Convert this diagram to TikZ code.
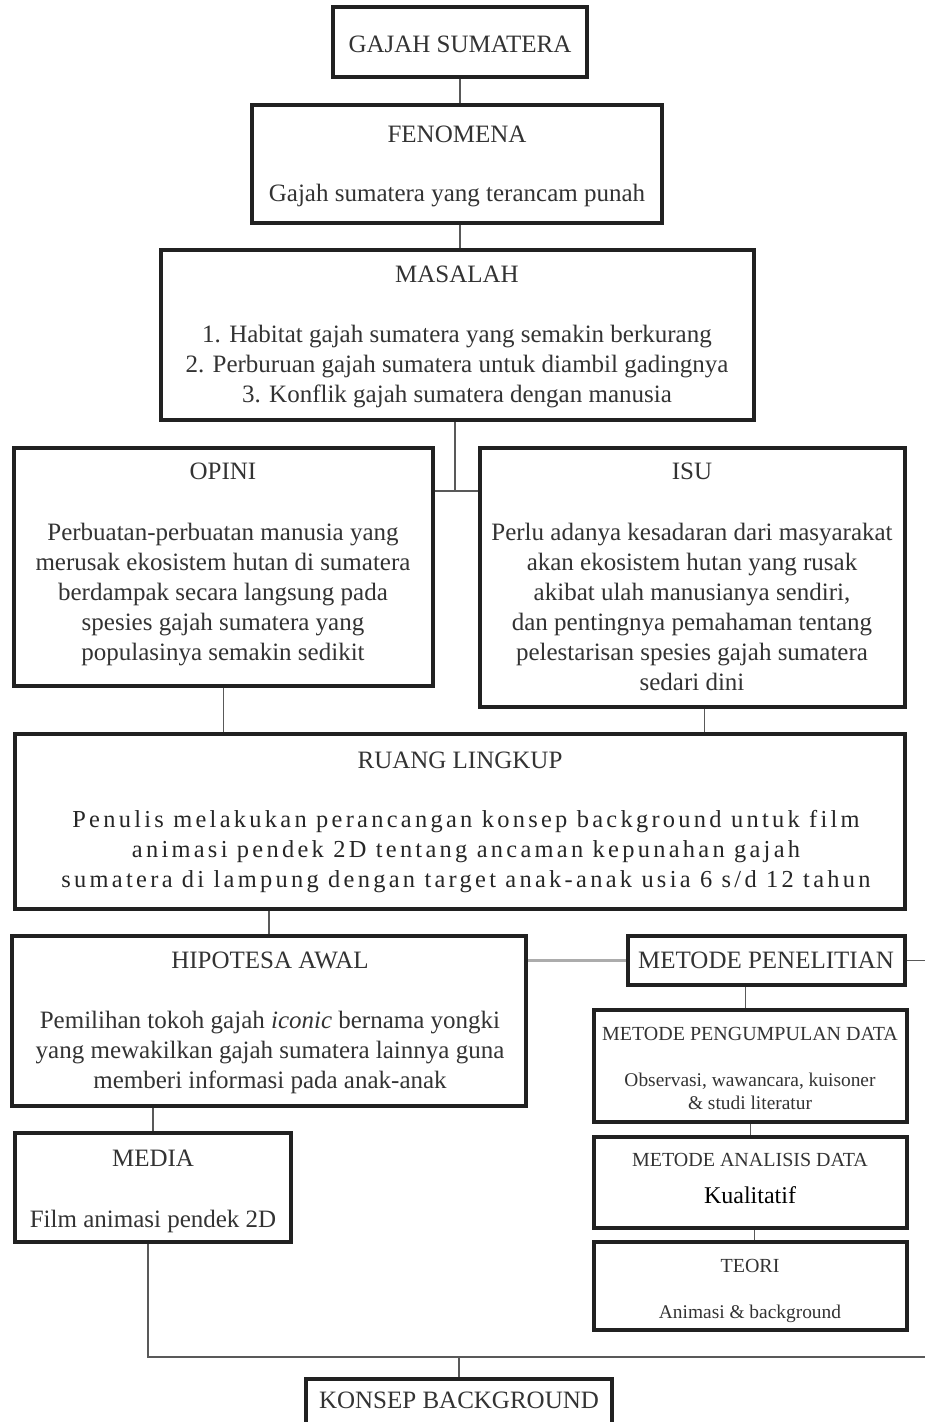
\documentclass[tikz,border=0pt]{standalone}
\usepackage{fontspec}
\setmainfont{Liberation Serif}
\usetikzlibrary{fit}
\definecolor{boxc}{gray}{0.13}
\definecolor{linec}{gray}{0.35}
\definecolor{txtc}{gray}{0.2}
\newcommand\ml[1]{\begin{tabular}[t]{@{}c@{}}#1\end{tabular}}
\begin{document}
\begin{tikzpicture}[x=0.5pt,y=-0.5pt,
  box/.style={draw=boxc, line width=2pt, inner sep=0pt},
  txt/.style={anchor=base, inner sep=0pt, text=txtc, font=\fontsize{12.5}{15}\selectfont},
  small/.style={txt, font=\fontsize{10}{11.5}\selectfont},
  sbody/.style={txt, font=\fontsize{9.7}{11.5}\selectfont},
  link/.style={draw=linec, line width=0.75pt},
  wide/.style={draw=gray!65, line width=1.3pt}]
\fill[white] (0,0) rectangle (925,1422);
\useasboundingbox (0,0) rectangle (925,1422);

% boxes
\node[box, fit={(333,7.5) (587,77.5)}] (gaj) {};
\node[box, fit={(252,105) (662,223)}] (fen) {};
\node[box, fit={(161,250) (754,420)}] (mas) {};
\node[box, fit={(14,448) (433,686)}] (opi) {};
\node[box, fit={(480,448) (905,707)}] (isu) {};
\node[box, fit={(15,734) (905,909)}] (rua) {};
\node[box, fit={(12,936) (526,1106)}] (hip) {};
\node[box, fit={(628,936) (905,985)}] (pen) {};
\node[box, fit={(594,1010) (907,1122)}] (png) {};
\node[box, fit={(594,1137) (907,1228)}] (ana) {};
\node[box, fit={(594,1242) (907,1330)}] (teo) {};
\node[box, fit={(15,1133) (291,1242)}] (med) {};
\node[box, fit={(306,1379) (612,1432)}] (kon) {};

% texts
\node[txt] (gajT) at (460,53) {GAJAH SUMATERA};
\node[txt] (fenT) at (457,143) {FENOMENA};
\node[txt] (fenB) at (457,202) {Gajah sumatera yang terancam punah};
\node[txt] (masT) at (457,283) {MASALAH};
\node[txt] (masB) at (457,343) {\ml{1. Habitat gajah sumatera yang semakin berkurang\\
2. Perburuan gajah sumatera untuk diambil gadingnya\\
3. Konflik gajah sumatera dengan manusia}};
\node[txt] (opiT) at (223,480) {OPINI};
\node[txt] (opiB) at (223,540) {\ml{Perbuatan-perbuatan manusia yang\\
merusak ekosistem hutan di sumatera\\
berdampak secara langsung pada\\
spesies gajah sumatera yang\\
populasinya semakin sedikit}};
\node[txt] (isuT) at (692,480) {ISU};
\node[txt] (isuB) at (692,540) {\ml{Perlu adanya kesadaran dari masyarakat\\
akan ekosistem hutan yang rusak\\
akibat ulah manusianya sendiri,\\
dan pentingnya pemahaman tentang\\
pelestarisan spesies gajah sumatera\\
sedari dini}};
\node[txt] (ruaT) at (460,768) {RUANG LINGKUP};
\node[txt, text=black!85, font=\fontsize{12.2}{15}\selectfont\addfontfeature{LetterSpace=13.5}] (ruaB) at (466,827) {\ml{Penulis melakukan perancangan konsep background untuk film\\
animasi pendek 2D tentang ancaman kepunahan gajah\\
sumatera di lampung dengan target anak-anak usia 6 s/d 12 tahun}};
\node[txt] (hipT) at (270,968) {HIPOTESA AWAL};
\node[txt] (hipB) at (270,1028) {\ml{Pemilihan tokoh gajah \textit{iconic} bernama yongki\\
yang mewakilkan gajah sumatera lainnya guna\\
memberi informasi pada anak-anak}};
\node[txt] (penT) at (766,968) {METODE PENELITIAN};
\node[small] (pngT) at (750,1040) {METODE PENGUMPULAN DATA};
\node[sbody] (pngB) at (750,1086) {\ml{Observasi, wawancara, kuisoner\\ \& studi literatur}};
\node[small] (anaT) at (750,1166) {METODE ANALISIS DATA};
\node[txt, text=black, font=\fontsize{12}{14}\selectfont] (anaB) at (750,1203) {Kualitatif};
\node[small] (teoT) at (750,1272) {TEORI};
\node[sbody] (teoB) at (750,1318) {Animasi \& background};
\node[txt] (medT) at (153,1166) {MEDIA};
\node[txt] (medB) at (153,1227) {Film animasi pendek 2D};
\node[txt] (konT) at (459,1408) {KONSEP BACKGROUND};

% connectors
\coordinate (j1) at (455,491);
\coordinate (e1) at (925,960.5);
\coordinate (b1) at (148,1357);
\coordinate (b2) at (925,1357);
\draw[link] (gaj.south) -- (gaj.south |- fen.north);
\draw[link] ([xshift=1.5pt]fen.south) -- ([xshift=1.5pt]fen.south |- mas.north);
\draw[link] (mas.south -| j1) -- (j1);
\draw[link] (opi.east |- j1) -- (isu.west |- j1);
\draw[link] (opi.south) -- (opi.south |- rua.north);
\draw[link] ([xshift=6pt]isu.south) -- ([xshift=6pt]isu.south |- rua.north);
\draw[link] (hip.north) -- (hip.north |- rua.south);
\draw[wide] (hip.east |- pen.west) -- (pen.west);
\draw[link] (pen.east) -- (e1);
\draw[link] ([xshift=-2.5pt]png.north) -- ([xshift=-2.5pt]png.north |- pen.south);
\draw[link] (ana.north) -- (ana.north |- png.south);
\draw[link] ([xshift=2pt]teo.north) -- ([xshift=2pt]teo.north |- ana.south);
\draw[link] (med.north) -- (med.north |- hip.south);
\draw[link] (med.south -| b1) -- (b1) -- (b2);
\draw[link] (kon.north) -- (kon.north |- b1);
\end{tikzpicture}
\end{document}
